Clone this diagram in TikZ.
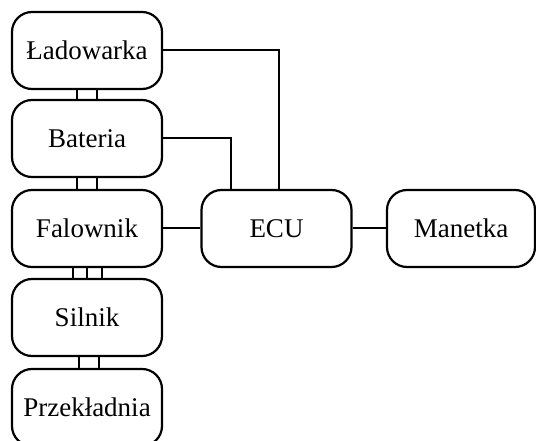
\documentclass[tikz,border=0pt]{standalone}
\usepackage{fontspec}
\setmainfont{Liberation Serif}
\begin{document}
\begin{tikzpicture}[x=1pt,y=-1pt,
  box/.style={draw,line width=2.2pt,rounded corners=20pt,minimum width=150pt,minimum height=77pt,inner sep=0pt,font=\fontsize{27}{32}\selectfont},
  conn/.style={line width=2pt}]
\useasboundingbox (0,0) rectangle (536,441);
\node[box] (lad) at (87,50.5) {Ładowarka};
\node[box] (bat) at (87,138.5) {Bateria};
\node[box] (fal) at (87,228.5) {Falownik};
\node[box] (sil) at (87,317.5) {Silnik};
\node[box] (prz) at (87,407.5) {Przekładnia};
\node[box] (ecu) at (276.5,228.5) {ECU};
\node[box,minimum width=148pt] (man) at (461,228.5) {Manetka};
\draw[conn] (lad.east) -| ([xshift=2.5pt]ecu.north);
\draw[conn] (bat.east) -| ([xshift=-45.5pt]ecu.north);
\draw[conn] (fal.east) -- (ecu.west);
\draw[conn] (ecu.east) -- (man.west);
\foreach \d in {-10,10}{
  \draw[conn] ([xshift=\d pt]lad.south) -- ([xshift=\d pt]bat.north);
  \draw[conn] ([xshift=\d pt]bat.south) -- ([xshift=\d pt]fal.north);
}
\foreach \d in {-14.5,0,14.5}{
  \draw[conn] ([xshift=\d pt]fal.south) -- ([xshift=\d pt]sil.north);
}
\foreach \d in {-8,12}{
  \draw[conn] ([xshift=\d pt]sil.south) -- ([xshift=\d pt]prz.north);
}
\end{tikzpicture}
\end{document}
